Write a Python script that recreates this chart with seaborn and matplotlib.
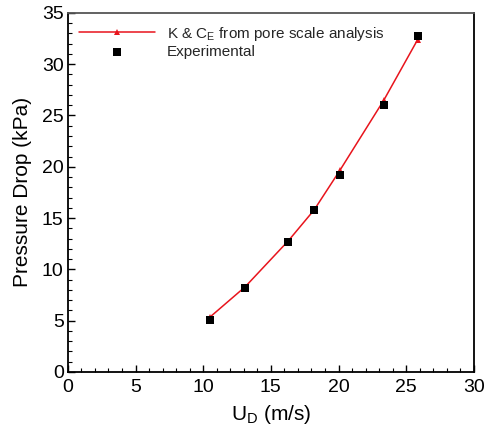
import matplotlib
matplotlib.use("Agg")
import matplotlib.pyplot as plt
from matplotlib.ticker import MultipleLocator
import seaborn as sns
import pandas as pd

# Superficial velocity (m/s) and pressure drop (kPa)
velocity = [10.5, 13.1, 16.3, 18.2, 20.1, 23.35, 25.85]
dp_model = [5.35, 8.3, 12.8, 15.8, 19.65, 26.5, 32.4]
dp_experiment = [5.1, 8.2, 12.7, 15.75, 19.15, 26.05, 32.75]

model_label = r"K & C$_\mathregular{E}$ from pore scale analysis"
exp_label = "Experimental"

sns.set_theme(style="white")
plt.rcParams["font.family"] = ["Liberation Sans", "DejaVu Sans"]
plt.rcParams["mathtext.default"] = "regular"

df_model = pd.DataFrame({"u": velocity, "dp": dp_model})
df_exp = pd.DataFrame({"u": velocity, "dp": dp_experiment})

fig = plt.figure(figsize=(4.85, 4.3), dpi=100)
ax = fig.add_axes([0.140, 0.135, 0.837, 0.835])

sns.lineplot(data=df_model, x="u", y="dp", ax=ax, color="#e8141c", lw=1.1,
             marker="^", markersize=5, markeredgewidth=0, label=model_label)
sns.scatterplot(data=df_exp, x="u", y="dp", ax=ax, color="black", marker="s",
                s=40, edgecolor="black", linewidth=0, label=exp_label, zorder=3)

ax.set_xlim(0, 30)
ax.set_ylim(0, 35)
ax.xaxis.set_major_locator(MultipleLocator(5))
ax.xaxis.set_minor_locator(MultipleLocator(1))
ax.yaxis.set_major_locator(MultipleLocator(5))
ax.yaxis.set_minor_locator(MultipleLocator(1))
ax.tick_params(which="both", direction="in", top=False, right=False,
               left=True, bottom=True, colors="black", labelsize=14)
ax.tick_params(axis="x", which="major", length=5, width=1.0, pad=5)
ax.tick_params(axis="y", which="major", length=5, width=1.0, pad=3)
ax.tick_params(which="minor", length=3, width=0.8)

for side in ["left", "bottom", "right"]:
    ax.spines[side].set_color("black")
    ax.spines[side].set_linewidth(1.3)
ax.spines["top"].set_color("#555555")
ax.spines["top"].set_linewidth(1.3)

ax.set_xlabel(r"U$_\mathregular{D}$ (m/s)", fontsize=15, color="black", labelpad=5)
ax.set_ylabel("Pressure Drop (kPa)", fontsize=15, color="black", labelpad=7)

leg = ax.legend(loc="upper left", frameon=False, fontsize=11, handlelength=5.0,
                handletextpad=0.8, borderaxespad=0.3, labelspacing=0.15,
                bbox_to_anchor=(0.0, 0.997), markerscale=0.85)

fig.savefig("out.png", dpi=100)
